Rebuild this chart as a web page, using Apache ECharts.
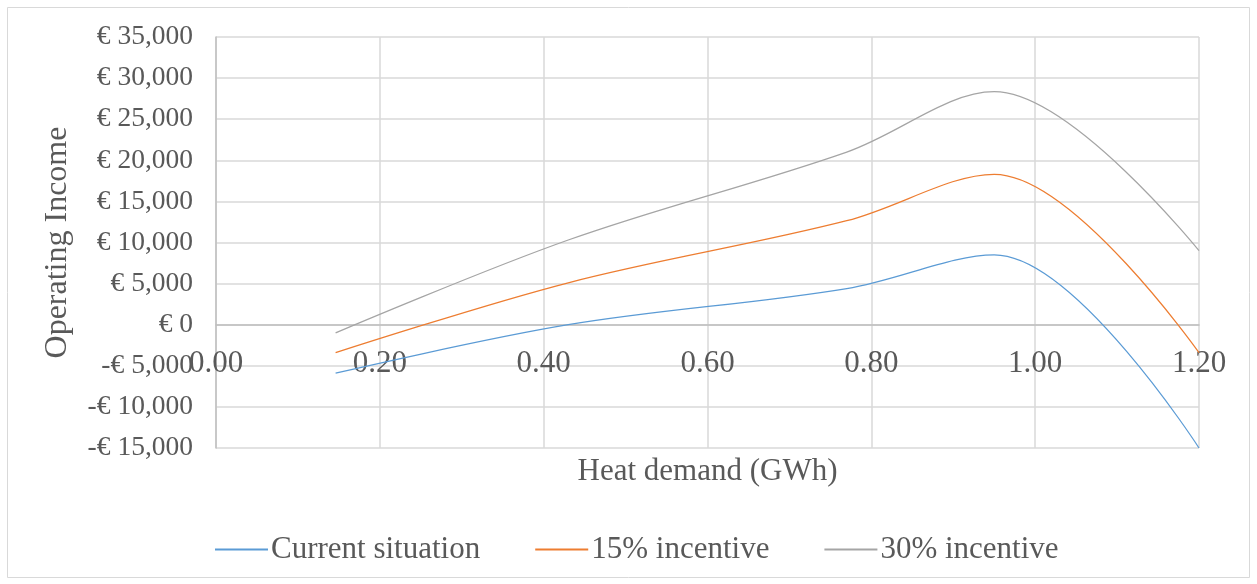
<!DOCTYPE html>
<html>
<head>
<meta charset="utf-8">
<script src="https://cdn.jsdelivr.net/npm/echarts@6/dist/echarts.min.js"></script>
<style>
  html, body { margin: 0; padding: 0; background: #ffffff; }
  #chart { width: 1257px; height: 584px; }
</style>
</head>
<body>
<div id="chart"></div>
<script>
// Heat demand (GWh) on the x axis
const heatDemand = [0.146, 0.43, 0.77, 0.95, 1.2];
// Operating income (EUR) per scenario
const currentSituation = [-5900, 0, 4400, 8500, -15000];
const incentive15 = [-3400, 5100, 12650, 18300, -3400];
const incentive30 = [-1000, 10300, 21000, 28350, 9000];
const seriesNames = ['Current situation', '15% incentive', '30% incentive'];

const FONT = "'Liberation Serif', 'Times New Roman', serif";
const TEXT = '#595959';

function pairs(ys) {
  return heatDemand.map((x, i) => [x, ys[i]]);
}

function euro(v) {
  const s = Math.abs(v).toLocaleString('en-US');
  return (v < 0 ? '-€ ' : '€ ') + s;
}

const chart = echarts.init(document.getElementById('chart'), null, { renderer: 'canvas' });

const lineStyle = (color) => ({ color: color, width: 1.25 });

chart.setOption({
  animation: false,
  backgroundColor: '#ffffff',
  color: ['#5B9BD5', '#ED7D31', '#A5A5A5'],
  graphic: [{
    type: 'rect',
    shape: { x: 7.5, y: 7.5, width: 1242, height: 570 },
    style: { fill: 'none', stroke: '#d9d9d9', lineWidth: 1 },
    silent: true
  }],
  grid: { left: 216, right: 58, top: 37, bottom: 136, containLabel: false, outerBoundsMode: 'none' },
  xAxis: {
    type: 'value',
    min: 0,
    max: 1.2,
    interval: 0.2,
    name: 'Heat demand (GWh)',
    nameLocation: 'middle',
    nameGap: 8,
    nameTextStyle: { fontFamily: FONT, fontSize: 31, color: TEXT, verticalAlign: 'top' },
    axisLine: { show: true, onZero: true, lineStyle: { color: '#bfbfbf', width: 1.5 } },
    axisTick: { show: false },
    axisLabel: {
      fontFamily: FONT, fontSize: 31, color: TEXT, margin: -100,
      formatter: (v) => v.toFixed(2)
    },
    splitLine: { show: true, lineStyle: { color: '#d9d9d9', width: 1.5 } }
  },
  yAxis: {
    type: 'value',
    min: -15000,
    max: 35000,
    interval: 5000,
    name: 'Operating Income',
    nameLocation: 'middle',
    nameRotate: 90,
    nameGap: 142,
    nameTextStyle: { fontFamily: FONT, fontSize: 32, color: TEXT },
    axisLine: { show: true, lineStyle: { color: '#bfbfbf', width: 1.5 } },
    axisTick: { show: false },
    axisLabel: {
      fontFamily: FONT, fontSize: 27.5, color: TEXT, margin: 23,
      formatter: euro
    },
    splitLine: { show: true, lineStyle: { color: '#d9d9d9', width: 1.5 } }
  },
  legend: {
    left: 210,
    top: 529,
    itemWidth: 53,
    itemHeight: 2,
    itemGap: 55,
    icon: 'rect',
    textStyle: { fontFamily: FONT, fontSize: 31, color: TEXT, padding: [0, 0, 0, -2] },
    data: seriesNames
  },
  series: [
    { name: seriesNames[0], type: 'line', data: pairs(currentSituation), smooth: 0.35, showSymbol: false, lineStyle: lineStyle('#5B9BD5') },
    { name: seriesNames[1], type: 'line', data: pairs(incentive15), smooth: 0.35, showSymbol: false, lineStyle: lineStyle('#ED7D31') },
    { name: seriesNames[2], type: 'line', data: pairs(incentive30), smooth: 0.35, showSymbol: false, lineStyle: lineStyle('#A5A5A5') }
  ]
});
</script>
</body>
</html>
